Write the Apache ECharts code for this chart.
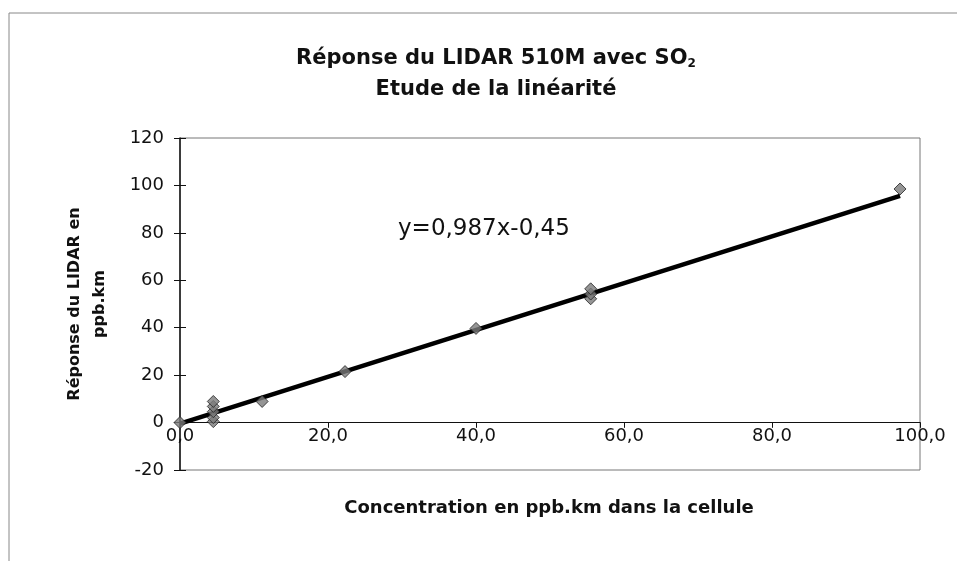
<!DOCTYPE html>
<html>
<head>
<meta charset="utf-8">
<script src="https://cdn.jsdelivr.net/npm/echarts@6/dist/echarts.min.js"></script>
<style>
html,body{margin:0;padding:0;background:#fff;}
#chart{width:967px;height:561px;}
</style>
</head>
<body>
<div id="chart"></div>
<script>
// mesures (concentration cellule, réponse LIDAR)
const concentration = [0, 4.5, 4.5, 4.5, 4.5, 4.5, 11.1, 22.3, 40.0, 55.5, 55.5, 55.5, 97.3]
const reponse = [0, 0.4, 2.1, 4.6, 6.8, 8.9, 8.9, 21.5, 39.7, 52.2, 54.2, 56.4, 98.5]
// droite de régression y=0,987x-0,45 (extrémités)
const fitX = [0, 97.3]
const fitY = [-0.45, 95.6]
const yTicks = [-20, 0, 20, 40, 60, 80, 100, 120]
const xTicks = [0, 20, 40, 60, 80, 100]

const font = 'DejaVu Sans, Arial, sans-serif'
let myChart = echarts.init(document.getElementById('chart'))

let points = concentration.map((c, i) => [c, reponse[i]])
let fit = fitX.map((c, i) => [c, fitY[i]])

// position du zéro pour placer l'axe des x
let gridTop = 138, gridBottom = 91
let plotH = 561 - gridTop - gridBottom
let zeroOffset = -plotH * (0 - yTicks[0]) / (yTicks[yTicks.length - 1] - yTicks[0])

let xBase = {
    type: 'value',
    min: xTicks[0],
    max: xTicks[xTicks.length - 1],
    interval: 20,
    offset: zeroOffset,
    splitLine: { show: false }
}
let yBase = {
    type: 'value',
    min: yTicks[0],
    max: yTicks[yTicks.length - 1],
    interval: 20,
    splitLine: { show: false }
}

let option = {
    animation: false,
    backgroundColor: '#fff',
    title: {
        text: '{t|Réponse du LIDAR 510M avec SO}{s|2}\n{t|Etude de la linéarité}',
        left: 491,
        top: 38,
        textAlign: 'center',
        textStyle: {
            rich: {
                t: { fontFamily: font, fontSize: 21, fontWeight: 'bold', color: '#111', lineHeight: 31 },
                s: { fontFamily: font, fontSize: 12, fontWeight: 'bold', color: '#111', lineHeight: 31, padding: [10, 0, 0, 0] }
            }
        }
    },
    grid: {
        left: 180, right: 47, top: gridTop, bottom: gridBottom,
        show: true,
        borderColor: '#777',
        borderWidth: 1
    },
    xAxis: [Object.assign({}, xBase, {
        axisLine: { onZero: false, lineStyle: { color: '#111', width: 1 } },
        axisTick: { show: true, length: 5, lineStyle: { color: '#111' } },
        axisLabel: {
            fontFamily: font, fontSize: 18, color: '#111', margin: 5,
            formatter: v => v.toFixed(1).replace('.', ',')
        }
    }), Object.assign({}, xBase, {
        axisLine: { show: false },
        axisTick: { show: true, inside: true, length: 5, lineStyle: { color: '#111' } },
        axisLabel: { show: false }
    })],
    yAxis: [Object.assign({}, yBase, {
        axisLine: { show: true, onZero: false, lineStyle: { color: '#111', width: 1.5 } },
        axisTick: { show: true, length: 6, lineStyle: { color: '#111' } },
        axisLabel: { fontFamily: font, fontSize: 18, color: '#111', margin: 16 }
    }), Object.assign({}, yBase, {
        position: 'left',
        axisLine: { show: false },
        axisTick: { show: true, inside: true, length: 6, lineStyle: { color: '#111' } },
        axisLabel: { show: false }
    })],
    graphic: [
        {
            type: 'text',
            left: 398, top: 218,
            style: { text: 'y=0,987x-0,45', font: '23px ' + font, fill: '#111' }
        },
        {
            type: 'text',
            x: 87, y: 304,
            rotation: Math.PI / 2,
            style: {
                text: 'Réponse du LIDAR en\nppb.km',
                font: 'bold 16px ' + font,
                fill: '#111',
                align: 'center',
                verticalAlign: 'middle',
                lineHeight: 25
            }
        },
        {
            type: 'text',
            x: 549, y: 508,
            style: {
                text: 'Concentration en ppb.km dans la cellule',
                font: 'bold 18px ' + font,
                fill: '#111',
                align: 'center',
                verticalAlign: 'middle'
            }
        },
        {
            type: 'polyline',
            shape: { points: [[9, 561], [9, 13], [957, 13]] },
            style: { stroke: '#888', lineWidth: 1, fill: null }
        }
    ],
    series: [
        {
            name: 'régression',
            type: 'line',
            data: fit,
            symbol: 'none',
            lineStyle: { color: '#000', width: 4.5 },
            z: 3
        },
        {
            name: 'mesures',
            type: 'scatter',
            data: points,
            symbol: 'diamond',
            symbolSize: 12,
            itemStyle: { color: '#7a7a7a', borderColor: '#222', borderWidth: 1 },
            z: 4
        }
    ]
}
myChart.setOption(option)
</script>
</body>
</html>
